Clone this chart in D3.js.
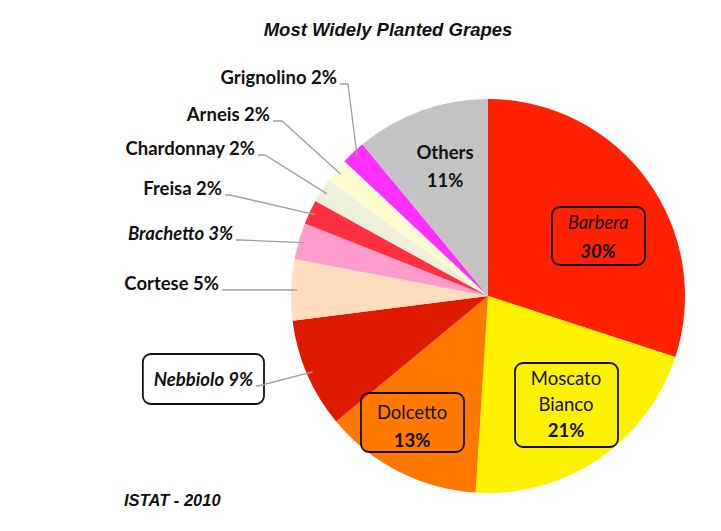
<!DOCTYPE html>
<html><head><meta charset="utf-8">
<script src="https://cdn.jsdelivr.net/npm/d3@7"></script>
<style>body{margin:0;background:#fff}</style>
</head><body>
<svg id="c" width="721" height="531"></svg>
<script>
const categories = ["Barbera","Moscato Bianco","Dolcetto","Nebbiolo","Cortese","Brachetto","Freisa","Chardonnay","Arneis","Grignolino","Others"];
const values = [30,21,13,9,5,3,2,2,2,2,11];
const colors = ["#ff2100","#fff200","#ff7800","#e01a00","#ffdcbc","#ff9ccc","#ff3040","#eef0dc","#fffcd0","#ff30ff","#c3c3c3"];
const title = "Most Widely Planted Grapes";
const source = "ISTAT - 2010";

const svg = d3.select("#c");
const cx = 488, cy = 296, R = 197;
const g = svg.append("g").attr("transform", `translate(${cx},${cy})`);
const pie = d3.pie().sort(null).value(d => d)(values);
const arc = d3.arc().innerRadius(0).outerRadius(R);
g.selectAll("path").data(pie).join("path")
  .attr("d", arc).attr("fill", (d,i) => colors[i]);

const font = "Lato, 'Open Sans', sans-serif";
svg.append("text").attr("x", 388).attr("y", 36).attr("text-anchor","middle")
  .attr("font-family","'Liberation Sans', Arial, sans-serif").attr("font-weight","bold").attr("font-style","italic")
  .attr("font-size",18.5).attr("fill","#111").text(title);
svg.append("text").attr("x", 124).attr("y", 506)
  .attr("font-family","'Liberation Sans', Arial, sans-serif").attr("font-weight","bold").attr("font-style","italic")
  .attr("font-size",16.5).attr("fill","#111").text(source);

// outside labels: [index, textRightX, textY, elbowX, italic, boxed]
const outside = [
  [9, 337, 84, 348, false, false],
  [8, 270, 121, 282, false, false],
  [7, 255, 155, 265, false, false],
  [6, 222, 195, 230, false, false],
  [5, 233, 240, 240, true, false],
  [4, 219, 290, 226, false, false],
  [3, 253, 386, 258, true, true]
];
outside.forEach(([i, tx, ty, ex, ital, boxed]) => {
  const p = pie[i];
  const a = (p.startAngle + p.endAngle) / 2;
  const rr = R * 0.97;
  const px = cx + rr * Math.sin(a), py = cy - rr * Math.cos(a);
  const t = svg.append("text").attr("x", tx).attr("y", ty).attr("text-anchor","end")
    .attr("font-family", font).attr("font-weight","bold").attr("font-size",18.5)
    .attr("font-style", ital ? "italic" : "normal").attr("fill","#111")
    .text(`${categories[i]} ${values[i]}%`);
  svg.append("polyline").attr("points", `${tx+3},${ty} ${ex},${ty} ${px},${py}`)
    .attr("fill","none").attr("stroke","#a0a0a0").attr("stroke-width",1.3);
  if (boxed) {
    const b = t.node().getBBox();
    svg.insert("rect", "text").attr("x", b.x - 11).attr("y", 354).attr("width", b.width + 22).attr("height", 50)
      .attr("rx", 8).attr("fill","#fff").attr("stroke","#111").attr("stroke-width",1.8);
  }
});

// inside labels: [index, lines, centerX, firstY, lineH, box[x,y,w,h] or null, italic, bold]
const inside = [
  [10, ["Others", `${values[10]}%`], 445, 159, 28, null, false, true],
  [0, ["Barbera", `${values[0]}%`], 598, 229, 29, [552, 207, 93, 58], true, false],
  [1, ["Moscato", "Bianco", `${values[1]}%`], 566, 385, 26, [515, 363, 103, 84], false, false],
  [2, ["Dolcetto", `${values[2]}%`], 412, 419, 28, [361, 393, 103, 59], false, false]
];
inside.forEach(([i, lines, x, y, lh, box, ital, bold]) => {
  if (box) {
    svg.append("rect").attr("x", box[0]).attr("y", box[1]).attr("width", box[2]).attr("height", box[3])
      .attr("rx", 8).attr("fill", "none").attr("stroke", "#111").attr("stroke-width", 1.8);
  }
  lines.forEach((l, k) => {
    svg.append("text").attr("x", x).attr("y", y + k * lh).attr("text-anchor","middle")
      .attr("font-family", font).attr("font-weight", (bold || k === lines.length - 1) ? "bold" : "normal")
      .attr("font-style", ital ? "italic" : "normal")
      .attr("font-size", 18.5).attr("fill","#111").text(l);
  });
});
</script>
</body></html>
